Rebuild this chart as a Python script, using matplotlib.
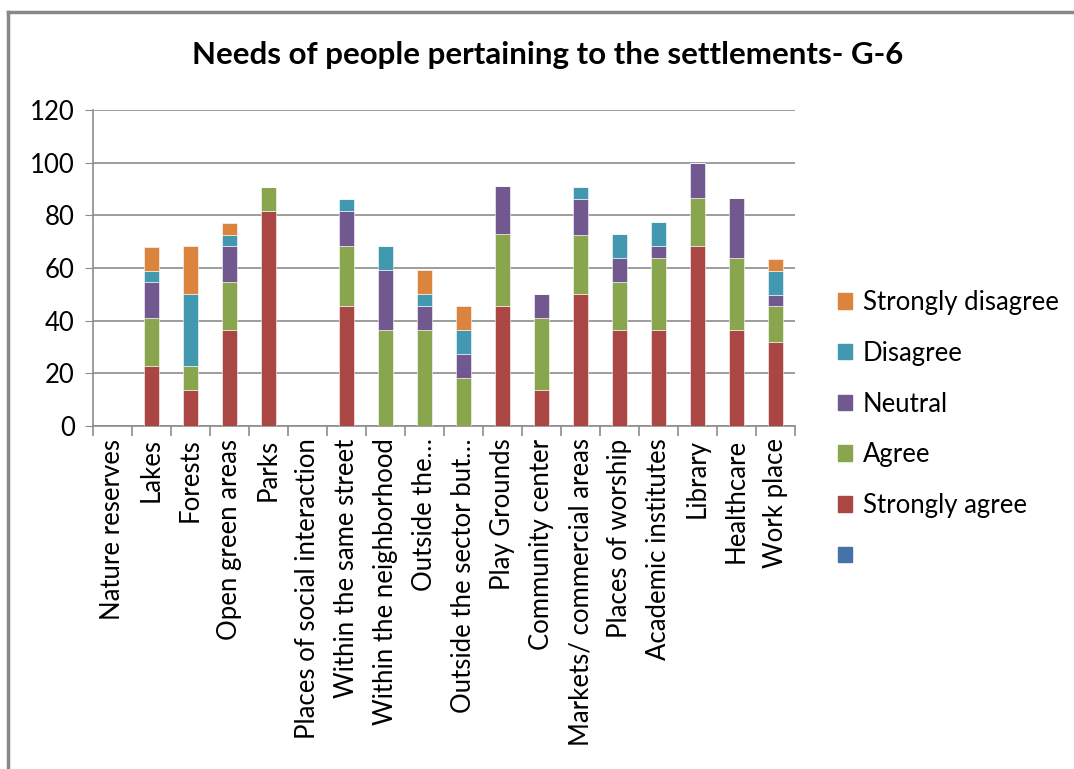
import numpy as np
import matplotlib
matplotlib.use("Agg")
import matplotlib.pyplot as plt
from matplotlib.lines import Line2D
from matplotlib.patches import Patch

plt.rcParams.update({"font.family": ["Lato", "DejaVu Sans"]})

CATEGORIES = ["Nature reserves", "Lakes", "Forests", "Open green areas", "Parks",
              "Places of social interaction", "Within the same street",
              "Within the neighborhood", "Outside the\u2026", "Outside the sector but\u2026",
              "Play Grounds", "Community center", "Markets/ commercial areas",
              "Places of worship", "Academic institutes", "Library", "Healthcare",
              "Work place"]

STRONGLY_AGREE = [0, 22.7, 13.6, 36.4, 81.8, 0, 45.5, 0, 0, 0, 45.5, 13.6, 50.0, 36.4, 36.4, 68.2, 36.4, 31.8]
AGREE          = [0, 18.2, 9.1, 18.2, 9.1, 0, 22.7, 36.4, 36.4, 18.2, 27.3, 27.3, 22.7, 18.2, 27.3, 18.2, 27.3, 13.6]
NEUTRAL        = [0, 13.6, 0, 13.6, 0, 0, 13.6, 22.7, 9.1, 9.1, 18.2, 9.1, 13.6, 9.1, 4.5, 13.6, 22.7, 4.5]
DISAGREE       = [0, 4.5, 27.3, 4.5, 0, 0, 4.5, 9.1, 4.5, 9.1, 0, 0, 4.5, 9.1, 9.1, 0, 0, 9.1]
STRONGLY_DIS   = [0, 9.1, 18.2, 4.5, 0, 0, 0, 0, 9.1, 9.1, 0, 0, 0, 0, 0, 0, 0, 4.5]

SERIES = [("Strongly agree", STRONGLY_AGREE, "#AA4643"),
          ("Agree", AGREE, "#89A54E"),
          ("Neutral", NEUTRAL, "#71588F"),
          ("Disagree", DISAGREE, "#4198AF"),
          ("Strongly disagree", STRONGLY_DIS, "#DB843D")]

fig = plt.figure(figsize=(10.74, 7.69), dpi=100)
ax = fig.add_axes([93 / 1074, 1 - 426 / 769, (795 - 93) / 1074, (426 - 110) / 769])

x = np.arange(len(CATEGORIES))
bottom = np.zeros(len(CATEGORIES))
for name, vals, col in SERIES:
    ax.bar(x, vals, 0.4, bottom=bottom, color=col, edgecolor="white", linewidth=0.4, zorder=3)
    bottom += np.array(vals)

ax.set_xlim(-0.5, len(CATEGORIES) - 0.5)
ax.set_ylim(0, 120)
ax.set_yticks(range(0, 121, 20))
ax.yaxis.grid(True, color="#8C8C8C", lw=1.2, zorder=0)
ax.tick_params(axis="y", length=6, color="#8C8C8C", labelsize=18.5, pad=7)
ax.set_xticks(x)
ax.set_xticklabels(CATEGORIES, rotation=90, fontsize=18.5)
ax.set_xticks(np.arange(-0.5, len(CATEGORIES)), minor=True)
ax.tick_params(axis="x", which="major", length=0, pad=9)
ax.tick_params(axis="x", which="minor", length=7, color="#8C8C8C", width=1.2)
for s in ["top", "right"]:
    ax.spines[s].set_visible(False)
for s in ["left", "bottom"]:
    ax.spines[s].set_color("#8C8C8C")
    ax.spines[s].set_linewidth(1.2)

fig.text(548 / 1074, 1 - 55 / 769, "Needs of people pertaining to the settlements- G-6",
         ha="center", va="center", fontsize=22.5, fontweight="bold")

handles = [Patch(color=c) for _, _, c in SERIES[::-1]] + [Patch(color="#4572A7")]
labels = [n for n, _, _ in SERIES[::-1]] + [""]
fig.legend(handles, labels, loc="upper left", bbox_to_anchor=(815 / 1074, 1 - 267 / 769),
           frameon=False, fontsize=18.5, handlelength=0.55, handleheight=0.55,
           handletextpad=0.4, labelspacing=1.0)

fig.add_artist(Line2D([8 / 1074, 8 / 1074], [0, 1 - 12 / 769], color="#888888", lw=2.5))
fig.add_artist(Line2D([8 / 1074, 1], [1 - 12 / 769, 1 - 12 / 769], color="#888888", lw=2.5))

fig.savefig("out.png", dpi=100)
